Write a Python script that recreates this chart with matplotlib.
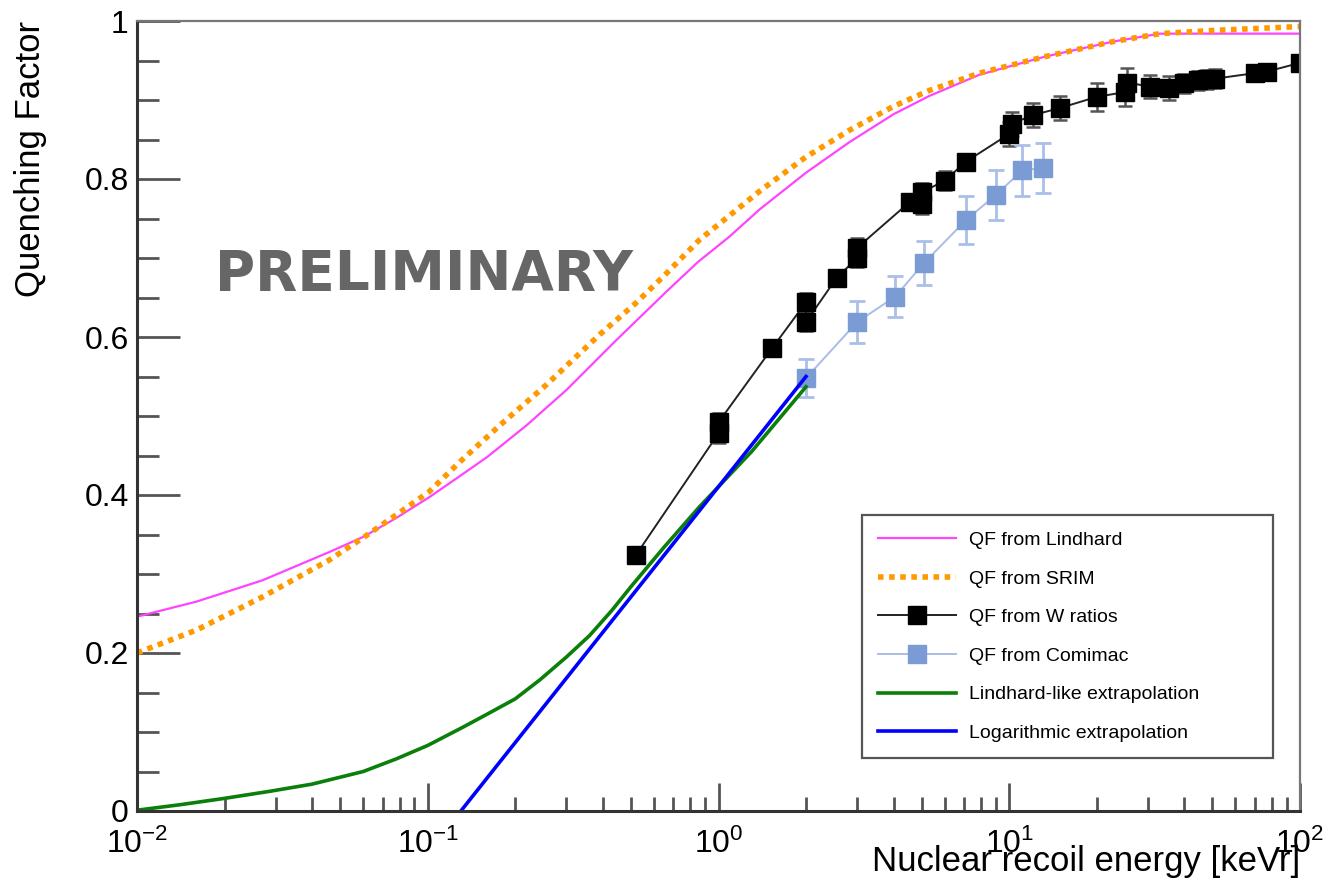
#!/usr/bin/env python3
"""Quenching factor vs nuclear recoil energy (ROOT-style figure)."""

import matplotlib
matplotlib.use("Agg")
import matplotlib.pyplot as plt
from matplotlib.ticker import FixedLocator, LogLocator, NullFormatter

# --- curves: (energy keVr, QF) ---
lindhard_e = [0.01, 0.016, 0.027, 0.046, 0.06, 0.078, 0.101, 0.129, 0.16, 0.22, 0.30,
              0.445, 0.66, 0.85, 1.09, 1.39, 2.0, 2.83, 4.0, 5.3, 7.9, 13.3, 22.8, 33.0, 100.0]
lindhard_qf = [0.246, 0.265, 0.292, 0.328, 0.347, 0.371, 0.397, 0.424, 0.448, 0.489, 0.533,
               0.596, 0.657, 0.695, 0.727, 0.762, 0.808, 0.847, 0.882, 0.905, 0.932, 0.955,
               0.974, 0.984, 0.984]

srim_e = [0.01, 0.016, 0.027, 0.046, 0.06, 0.078, 0.101, 0.129, 0.178, 0.255,
          0.39, 0.52, 0.66, 0.86, 1.02, 1.39, 2.0, 2.83, 4.0, 5.3, 7.9, 13.3, 22.8, 33.0,
          50.0, 100.0]
srim_qf = [0.200, 0.229, 0.271, 0.318, 0.346, 0.375, 0.404, 0.442, 0.489, 0.539,
           0.603, 0.643, 0.680, 0.723, 0.745, 0.785, 0.828, 0.862, 0.892, 0.912, 0.934,
           0.955, 0.974, 0.984, 0.988, 0.993]

green_e = [0.01, 0.0141, 0.02, 0.0287, 0.04, 0.06, 0.078, 0.1, 0.132, 0.159, 0.2,
           0.243, 0.3, 0.36, 0.43, 0.5, 0.65, 0.86, 1.3, 2.0]
green_qf = [0.001, 0.008, 0.016, 0.025, 0.034, 0.050, 0.066, 0.083, 0.106, 0.122, 0.142,
            0.166, 0.195, 0.222, 0.254, 0.284, 0.334, 0.385, 0.455, 0.537]

log_e = [0.13, 2.0]
log_qf = [0.0, 0.55]

# --- measured points ---
w_e = [0.52, 1.0, 1.0, 1.53, 2.0, 2.0, 2.55, 3.0, 3.0, 4.55, 5.0, 5.0, 6.0, 7.1,
       10.0, 10.2, 12.1, 15.0, 20.0, 25.0, 25.5, 30.5, 35.5, 40.0, 44.5, 48.0, 51.0,
       70.0, 77.0, 100.0]
w_qf = [0.324, 0.478, 0.492, 0.586, 0.644, 0.619, 0.675, 0.700, 0.713, 0.771, 0.768, 0.783,
        0.798, 0.822, 0.857, 0.870, 0.881, 0.890, 0.904, 0.910, 0.922, 0.917, 0.915, 0.921,
        0.925, 0.926, 0.927, 0.934, 0.936, 0.947]
w_err = [0.008, 0.012, 0.012, 0.008, 0.012, 0.012, 0.010, 0.012, 0.012, 0.010, 0.012, 0.012,
         0.012, 0.008, 0.015, 0.015, 0.015, 0.015, 0.018, 0.018, 0.018, 0.015, 0.015, 0.012,
         0.012, 0.012, 0.012, 0.008, 0.008, 0.008]

com_e = [2.0, 3.0, 4.05, 5.1, 7.1, 9.0, 11.1, 13.1]
com_qf = [0.548, 0.619, 0.651, 0.694, 0.748, 0.780, 0.811, 0.814]
com_err = [0.024, 0.026, 0.026, 0.028, 0.030, 0.032, 0.032, 0.032]

y_ticks = [0.0, 0.2, 0.4, 0.6, 0.8, 1.0]
y_labels = ["0", "0.2", "0.4", "0.6", "0.8", "1"]


def main() -> None:
    plt.rcParams["font.family"] = ["Liberation Sans", "DejaVu Sans"]
    plt.rcParams["mathtext.fontset"] = "custom"
    plt.rcParams["mathtext.rm"] = "Liberation Sans"
    plt.rcParams["axes.unicode_minus"] = False

    fig = plt.figure(figsize=(13.3, 8.85), dpi=100)
    ax = fig.add_axes([137 / 1330, 74 / 885, 1163 / 1330, 790 / 885])

    ax.plot(lindhard_e, lindhard_qf, color="#ff44ff", lw=1.6, label="QF from Lindhard")
    ax.plot(srim_e, srim_qf, color="#ff9900", lw=4.0, ls=(0, (1.0, 1.0)),
            label="QF from SRIM")

    ax.errorbar(w_e, w_qf, yerr=w_err, fmt="none", ecolor="#555555", elinewidth=1.8,
                capsize=5, capthick=1.8)
    ax.plot(w_e, w_qf, color="#222222", lw=1.4, marker="s", ms=13, mfc="black",
            mec="black", label="QF from W ratios")

    ax.errorbar(com_e, com_qf, yerr=com_err, fmt="none", ecolor="#aac0e8", elinewidth=2.0,
                capsize=6, capthick=2.0)
    ax.plot(com_e, com_qf, color="#a8bde6", lw=1.4, marker="s", ms=13, mfc="#7b9bd5",
            mec="#7b9bd5", label="QF from Comimac")

    ax.plot(green_e, green_qf, color="#0a7f0a", lw=2.6, label="Lindhard-like extrapolation")
    ax.plot(log_e, log_qf, color="#0000ff", lw=2.6, label="Logarithmic extrapolation")

    ax.set_xscale("log")
    ax.set_xlim(0.01, 100)
    ax.set_ylim(0, 1)

    ax.yaxis.set_major_locator(FixedLocator(y_ticks))
    ax.set_yticklabels(y_labels)
    ax.yaxis.set_minor_locator(FixedLocator([i * 0.05 for i in range(21) if i % 4]))
    ax.xaxis.set_major_locator(LogLocator(base=10, numticks=10))
    ax.xaxis.set_minor_locator(LogLocator(base=10, subs=range(2, 10), numticks=10))
    ax.xaxis.set_minor_formatter(NullFormatter())

    ax.tick_params(axis="both", which="both", direction="in", top=False, right=False,
                   color="#555555", width=2.0, labelsize=23)
    ax.tick_params(axis="y", which="major", length=31, pad=6)
    ax.tick_params(axis="y", which="minor", length=16)
    ax.tick_params(axis="x", which="major", length=20, pad=13)
    ax.tick_params(axis="x", which="minor", length=10)

    for side in ("left", "bottom"):
        ax.spines[side].set_color("#333333")
        ax.spines[side].set_linewidth(2.2)
    for side in ("top", "right"):
        ax.spines[side].set_color("#777777")
        ax.spines[side].set_linewidth(1.6)

    ax.set_xlabel("Nuclear recoil energy [keVr]", fontsize=25, loc="right")
    ax.xaxis.set_label_coords(1.0, -0.043)
    ax.set_ylabel("Quenching Factor", fontsize=25, loc="top")
    ax.yaxis.set_label_coords(-0.077, 1.0)

    ax.text(0.247, 0.678, "PRELIMINARY", transform=ax.transAxes, ha="center", va="center",
            fontsize=39.5, fontweight="bold", color="#666666", family="DejaVu Sans")

    leg = ax.legend(loc="upper left", bbox_to_anchor=(0.623, 0.375, 0.354, 0.0),
                    mode="expand", borderaxespad=0, fontsize=14, handlelength=4.0,
                    handletextpad=0.67, labelspacing=1.08, borderpad=0.85,
                    fancybox=False, framealpha=1.0)
    leg.get_frame().set_edgecolor("#555555")
    leg.get_frame().set_linewidth(1.6)

    fig.savefig("out.png", dpi=100)


if __name__ == "__main__":
    main()
